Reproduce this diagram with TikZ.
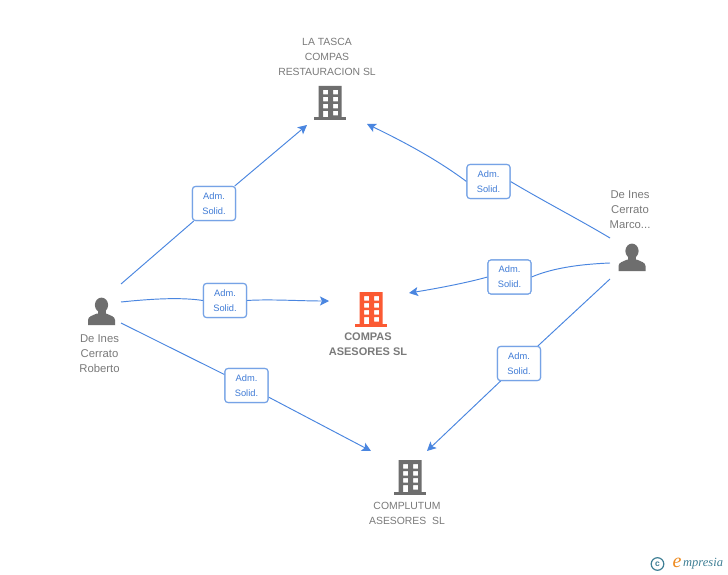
\documentclass[tikz,border=0pt]{standalone}
\usepackage{fontspec}
\setmainfont{Liberation Sans}
\newfontfamily\logofont{Liberation Serif}
\usetikzlibrary{arrows.meta}
\definecolor{linkblue}{HTML}{4A86E0}
\definecolor{boxblue}{HTML}{76A3E6}
\definecolor{textblue}{HTML}{3F7BD6}
\definecolor{labelgray}{HTML}{7A7A7A}
\definecolor{icongray}{HTML}{6E6E6E}
\definecolor{iconorange}{HTML}{FB5A33}
\definecolor{logoteal}{HTML}{3F7F95}
\definecolor{logoorange}{HTML}{EE8A1E}
\tikzset{
  role/.style={draw=boxblue,line width=1.1pt,rounded corners=3pt,fill=white,minimum width=43pt,minimum height=34pt,inner sep=0pt,text=textblue,align=center,font=\fontsize{9.3}{15}\selectfont},
  lbl/.style={text=labelgray,align=center,inner sep=0pt,font=\fontsize{10.4}{15}\selectfont},
  lblbig/.style={text=labelgray,align=center,inner sep=0pt,font=\fontsize{11.3}{15}\selectfont},
  lblbold/.style={text=labelgray,align=center,inner sep=0pt,font=\fontsize{11}{15}\selectfont\bfseries},
  link/.style={draw=linkblue,line width=0.95pt},
  linkarrow/.style={link,-{Stealth[length=9pt,width=9pt,inset=2pt]}},
  pics/building/.style={code={
    \fill[#1,even odd rule] (-11.5,0) rectangle (11.5,32)
      (-7,4) rectangle (-2,8.5) (3,4) rectangle (8,8.5)
      (-7,11) rectangle (-2,15.5) (3,11) rectangle (8,15.5)
      (-7,18) rectangle (-2,22.5) (3,18) rectangle (8,22.5)
      (-7,25) rectangle (-2,32) (3,25) rectangle (8,29.5);
    \fill[#1] (-16,31.5) rectangle (16,34.5);
  }},
  pics/person/.style={code={
    \fill[icongray] (0,7) ellipse (6.6 and 7.4);
    \fill[icongray] (-13.5,27) -- (-13.5,22) .. controls (-13.5,18.5) and (-9,17.5) .. (-4.5,15.5)
      -- (4.5,15.5) .. controls (9,17.5) and (13.5,18.5) .. (13.5,22) -- (13.5,27) -- cycle;
    \fill[icongray] (-4,11) rectangle (4,17);
  }}
}
\begin{document}
\begin{tikzpicture}[x=1pt,y=-1pt]
\useasboundingbox (0,0) rectangle (728,575);
\fill[white] (0,0) rectangle (728,575);

% icons
\pic at (330,86) {building=icongray};
\pic at (371,292) {building=iconorange};
\pic at (410,460) {building=icongray};
\pic at (101.5,298) {person};
\pic at (632,244) {person};

% labels
\node[lbl] (tasca) at (327,57) {LA TASCA\\COMPAS\\RESTAURACION SL};
\node[lblbold] (compas) at (368,344.5) {COMPAS\\ASESORES SL};
\node[lbl] (complutum) at (407,513.5) {COMPLUTUM\\ASESORES\ \ SL};
\node[lblbig] (roberto) at (99.5,354) {De Ines\\Cerrato\\Roberto};
\node[lblbig] (marco) at (630,210) {De Ines\\Cerrato\\Marco...};

% free ends of connectors
\coordinate (rA) at (121,284);
\coordinate (rB) at (121,302);
\coordinate (rC) at (121,323);
\coordinate (mA) at (610,238);
\coordinate (mB) at (610,263);
\coordinate (mC) at (610,279);
\coordinate (tascaL) at (307,125);
\coordinate (tascaR) at (367,124);
\coordinate (compasL) at (329,301);
\coordinate (compasR) at (409,293);
\coordinate (compL) at (371,451);
\coordinate (compR) at (427,451);

% role boxes
\node[role] (b1) at (214,203.5) {Adm.\\Solid.};
\node[role] (b2) at (225,300.5) {Adm.\\Solid.};
\node[role] (b3) at (246.5,385.5) {Adm.\\Solid.};
\node[role] (b4) at (488.5,181.5) {Adm.\\Solid.};
\node[role] (b5) at (509.5,277) {Adm.\\Solid.};
\node[role] (b6) at (519,363.5) {Adm.\\Solid.};

% connectors
\begin{scope}[on background layer/.style={}]
\end{scope}
\draw[link] (rA) -- (b1);
\draw[linkarrow] (b1) -- (tascaL);
\draw[link] (rB) .. controls (150,299) and (180,297) .. (b2.west);
\draw[linkarrow] (b2.east) .. controls (270,299) and (300,301) .. (compasL);
\draw[link] (rC) -- (b3);
\draw[linkarrow] (b3) -- (compL);
\draw[link] (mA) .. controls (580,220) and (545,202) .. (b4.east);
\draw[linkarrow] (b4.west) .. controls (435,158) and (400,140) .. (tascaR);
\draw[link] (mB) .. controls (585,264) and (555,267) .. (b5.east);
\draw[linkarrow] (b5.west) .. controls (470,282) and (440,288) .. (compasR);
\draw[link] (mC) -- (b6);
\draw[linkarrow] (b6) -- (compR);

% boxes again on top of the line ends
\node[role] at (b1) {Adm.\\Solid.};
\node[role] at (b2) {Adm.\\Solid.};
\node[role] at (b3) {Adm.\\Solid.};
\node[role] at (b4) {Adm.\\Solid.};
\node[role] at (b5) {Adm.\\Solid.};
\node[role] at (b6) {Adm.\\Solid.};

% logo
\draw[logoteal,line width=1.2pt] (657.5,564) circle (6.3);
\node[text=logoteal,inner sep=0pt,font=\fontsize{8.5}{9}\selectfont\bfseries] (copy) at (657.5,564) {c};
\node[text=logoorange,inner sep=0pt,font=\logofont\itshape\fontsize{20}{20}\selectfont] (loge) at (677,563) {e};
\node[text=logoteal,inner sep=0pt,anchor=west,font=\logofont\itshape\fontsize{12.5}{13}\selectfont] (logot) at (683,564) {mpresia};
\end{tikzpicture}
\end{document}
